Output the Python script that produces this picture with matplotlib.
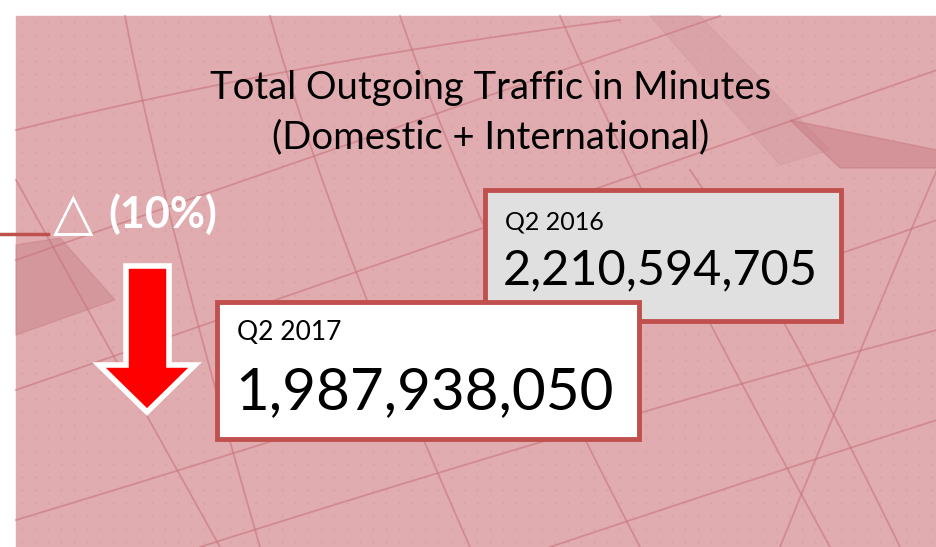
import numpy as np
import matplotlib.pyplot as plt
from matplotlib.patches import Rectangle, Polygon

# data
periods = ["Q2 2016", "Q2 2017"]
minutes = [2210594705, 1987938050]
title_lines = ["Total Outgoing Traffic in Minutes", "(Domestic + International)"]

W, H = 937, 547
FONT = "Lato"
PINK = "#e0acb0"
LINE = "#c7757c"
BOX_EDGE = "#c0504d"

fig = plt.figure(figsize=(W / 100, H / 100), dpi=100)
ax = fig.add_axes([0, 0, 1, 1])
ax.set_xlim(0, W)
ax.set_ylim(H, 0)
ax.axis("off")

# background panel
ax.add_patch(Rectangle((16, 16), W - 16, H - 16, color=PINK, zorder=0))
ax.add_patch(Polygon([(16, 245), (60, 238), (115, 300), (16, 335)], color="#c77f85", alpha=0.45, zorder=0))
ax.add_patch(Polygon([(650, 16), (700, 16), (830, 150), (780, 165)], color="#d0959a", alpha=0.35, zorder=0))
ax.add_patch(Polygon([(790, 120), (937, 150), (937, 168), (840, 168)], color="#c26f76", alpha=0.4, zorder=0))

# faint dot texture
gx, gy = np.meshgrid(np.arange(22, W, 13), np.arange(22, H, 13))
ax.scatter(gx.ravel(), gy.ravel(), s=2.5, color="#c99094", alpha=0.35, linewidths=0, zorder=0)

# decorative curved grid lines
t = np.linspace(0, 1, 50)
curves = [
    ((16, 130), (300, 60), (620, 20)),
    ((16, 260), (330, 150), (720, 16)),
    ((16, 390), (420, 250), (937, 70)),
    ((16, 520), (480, 380), (937, 220)),
    ((200, 547), (600, 420), (937, 330)),
    ((550, 547), (780, 470), (937, 420)),
    ((125, 16), (160, 200), (260, 547)),
    ((270, 16), (330, 230), (470, 547)),
    ((400, 16), (470, 220), (640, 547)),
    ((560, 16), (640, 200), (830, 547)),
    ((690, 170), (780, 300), (900, 547)),
    ((937, 170), (880, 300), (780, 547)),
    ((16, 180), (60, 260), (220, 547)),
]
for p0, p1, p2 in curves:
    bx = (1 - t) ** 2 * p0[0] + 2 * (1 - t) * t * p1[0] + t ** 2 * p2[0]
    by = (1 - t) ** 2 * p0[1] + 2 * (1 - t) * t * p1[1] + t ** 2 * p2[1]
    ax.plot(bx, by, color=LINE, lw=1.3, alpha=0.6, zorder=0.5)

# title
ax.text(491, 88, title_lines[0], fontsize=27.5, family=FONT, ha="center", va="center", color="black")
ax.text(491, 137, title_lines[1], fontsize=27.5, family=FONT, ha="center", va="center", color="black")

# change indicator
change = minutes[1] / minutes[0] - 1
ax.plot([0, 48], [234, 234], color=BOX_EDGE, lw=2.5, zorder=2)
ax.text(53, 214, "\u25b3", fontsize=38, family="DejaVu Sans", ha="left", va="center", color="white")
ax.text(108, 214, f"({abs(change) * 100:.0f}%)", fontsize=31, family=FONT, weight="bold",
        ha="left", va="center", color="white")

# down arrow
arrow = [(126, 266), (169, 266), (169, 365), (195, 365), (147, 412), (99, 365), (126, 365)]
ax.add_patch(Polygon(arrow, closed=True, facecolor="#ff0000", edgecolor="white", lw=4, joinstyle="miter", zorder=3))

# value boxes
boxes = [
    dict(x=485, y=190, w=356, h=131, face="#e0e0e0", small=18, big=35, dy_small=32, dy_big=80),
    dict(x=217, y=302, w=422, h=137, face="white", small=19, big=42, dy_small=31, dy_big=91),
]
for label, val, b in zip(periods, minutes, boxes):
    ax.add_patch(Rectangle((b["x"], b["y"]), b["w"], b["h"], facecolor=b["face"],
                           edgecolor=BOX_EDGE, lw=3.5, zorder=4))
    ax.text(b["x"] + 20, b["y"] + b["dy_small"], label, fontsize=b["small"], family=FONT,
            ha="left", va="center", color="black", zorder=5)
    ax.text(b["x"] + 18, b["y"] + b["dy_big"], f"{val:,}", fontsize=b["big"], family=FONT,
            ha="left", va="center", color="black", zorder=5)

fig.savefig("out.png", dpi=100)
